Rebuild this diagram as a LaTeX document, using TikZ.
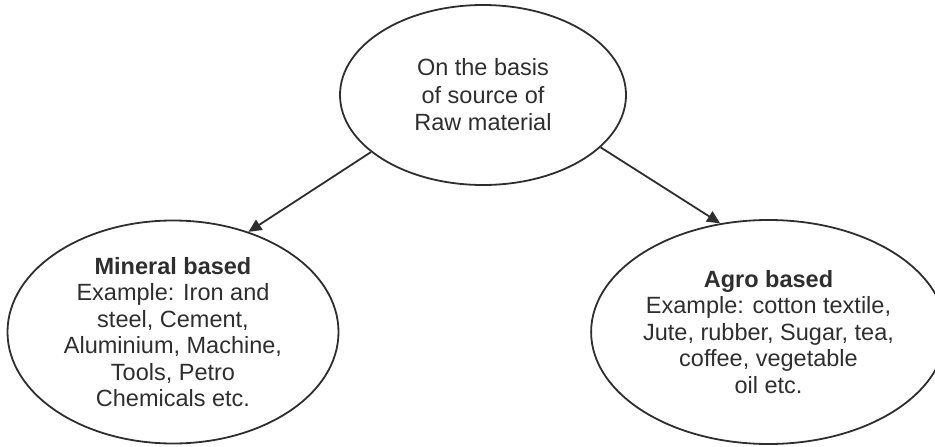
\documentclass[tikz,border=0pt]{standalone}
\usepackage{fontspec}
\setmainfont{Liberation Sans}
\usetikzlibrary{shapes.geometric,arrows.meta}
\definecolor{ink}{gray}{0.18}
\tikzset{
  oval/.style={draw=ink, line width=1.8pt, shape=ellipse, inner sep=0pt, align=center, text=ink,
    font=\fontsize{23.5}{26.5}\selectfont},
  conn/.style={draw=ink, line width=1.8pt, -{Triangle[length=13pt,width=12pt]}}
}
\begin{document}
\begin{tikzpicture}[x=1pt,y=-1pt]
\useasboundingbox (0,0) rectangle (935,447);
\node[oval, minimum width=286pt, minimum height=180pt, font=\fontsize{23.5}{27.5}\selectfont] (top) at (483,95)
  {On the basis\\of source of\\Raw material};
\node[oval, minimum width=331pt, minimum height=223pt] (mineral) at (173,332)
  {\textbf{Mineral based}\\Example: Iron and\\steel, Cement,\\Aluminium, Machine,\\Tools, Petro\\Chemicals etc.};
\node[oval, minimum width=331pt, minimum height=224pt] (agro) at (768.5,332)
  {\textbf{Agro based}\\Example: cotton textile,\\Jute, rubber, Sugar, tea,\\coffee, vegetable\\oil etc.};
\draw[conn] (top.207) -- (mineral.53);
\draw[conn] (top.336) -- (agro.114);
\end{tikzpicture}
\end{document}
